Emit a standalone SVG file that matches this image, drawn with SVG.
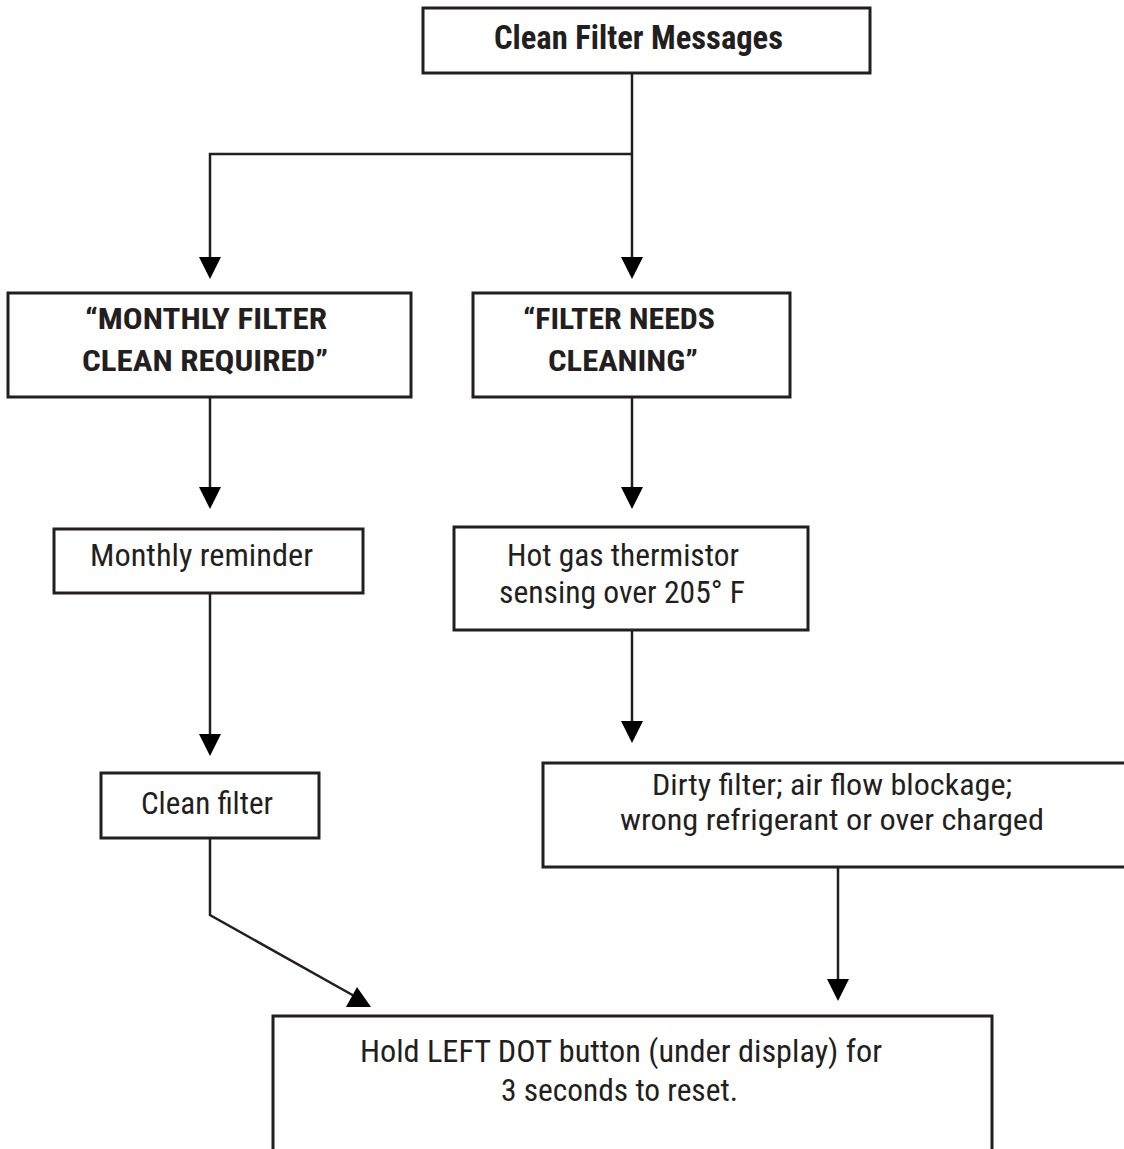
<svg xmlns="http://www.w3.org/2000/svg" width="1124" height="1149" viewBox="0 0 1124 1149">
<style>
.box{fill:#fff;stroke:#231f20;stroke-width:3}
.t{font-family:"Liberation Sans Narrow","Roboto Condensed","DejaVu Sans Condensed","Liberation Sans",sans-serif;fill:#231f20;text-anchor:middle;font-size:31px}
.b{font-weight:bold;font-size:29px}
.s{font-size:29px}
.c{fill:none;stroke:#231f20;stroke-width:2.5}
.h{fill:#000}
</style>
<defs>
<marker id="arr" viewBox="0 0 22 22" refX="18" refY="11" markerWidth="22" markerHeight="22" markerUnits="userSpaceOnUse" orient="auto">
<path d="M0,0 L22,11 L0,22 Z" class="h"/>
</marker>
</defs>
<rect width="1124" height="1149" fill="#fff"/>
<g id="connectors">
<path class="c" d="M632,73 V275" marker-end="url(#arr)"/>
<path class="c" d="M632,154 H210 V275" marker-end="url(#arr)"/>
<path class="c" d="M210,397 V505" marker-end="url(#arr)"/>
<path class="c" d="M632,397 V505" marker-end="url(#arr)"/>
<path class="c" d="M210,593 V752" marker-end="url(#arr)"/>
<path class="c" d="M632,630 V739" marker-end="url(#arr)"/>
<path class="c" d="M838,867 V997" marker-end="url(#arr)"/>
<path class="c" d="M210,838 V915 L356,997"/>
<polygon class="h" points="346,1007 371,1007 357,987"/>
</g>
<g id="node-top">
<rect class="box" x="423" y="8" width="447" height="65"/>
<text class="t b" x="638.5" y="49" style="font-size:34px" textLength="289" lengthAdjust="spacingAndGlyphs">Clean Filter Messages</text>
</g>
<g id="node-monthly">
<rect class="box" x="8" y="293" width="403" height="104"/>
<text class="t b" x="206" y="329" textLength="242" lengthAdjust="spacingAndGlyphs">“MONTHLY FILTER</text>
<text class="t b" x="205" y="371" textLength="246" lengthAdjust="spacingAndGlyphs">CLEAN REQUIRED”</text>
</g>
<g id="node-needs">
<rect class="box" x="473" y="293" width="317" height="104"/>
<text class="t b" x="619" y="329" textLength="192" lengthAdjust="spacingAndGlyphs">“FILTER NEEDS</text>
<text class="t b" x="623" y="371" textLength="150" lengthAdjust="spacingAndGlyphs">CLEANING”</text>
</g>
<g id="node-reminder">
<rect class="box" x="54" y="529" width="309" height="64"/>
<text class="t" x="201.5" y="566" textLength="223" lengthAdjust="spacingAndGlyphs">Monthly reminder</text>
</g>
<g id="node-hotgas">
<rect class="box" x="454" y="527" width="354" height="103"/>
<text class="t" x="623" y="566" textLength="232" lengthAdjust="spacingAndGlyphs">Hot gas thermistor</text>
<text class="t" x="622" y="603" textLength="246" lengthAdjust="spacingAndGlyphs">sensing over 205° F</text>
</g>
<g id="node-clean">
<rect class="box" x="101" y="773" width="218" height="65"/>
<text class="t" x="207" y="814" textLength="132" lengthAdjust="spacingAndGlyphs">Clean filter</text>
</g>
<g id="node-dirty">
<rect class="box" x="543" y="763" width="600" height="104"/>
<text class="t s" x="832" y="795" textLength="360" lengthAdjust="spacingAndGlyphs">Dirty filter; air flow blockage;</text>
<text class="t s" x="832" y="830" textLength="424" lengthAdjust="spacingAndGlyphs">wrong refrigerant or over charged</text>
</g>
<g id="node-reset">
<rect class="box" x="273" y="1016" width="719" height="150"/>
<text class="t" x="621" y="1062" textLength="522" lengthAdjust="spacingAndGlyphs">Hold LEFT DOT button (under display) for</text>
<text class="t" x="619.5" y="1101" textLength="237" lengthAdjust="spacingAndGlyphs">3 seconds to reset.</text>
</g>
</svg>
